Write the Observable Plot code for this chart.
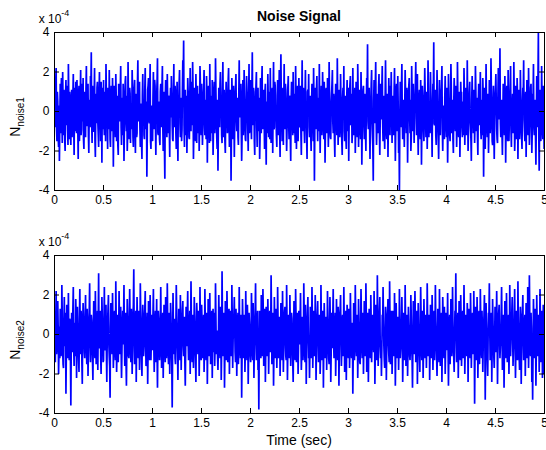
<!DOCTYPE html>
<html><head><meta charset="utf-8">
<script src="https://cdn.jsdelivr.net/npm/d3@7"></script>
<script src="https://cdn.jsdelivr.net/npm/@observablehq/plot@0.6"></script>
<style>
body{margin:0;background:#fff;font-family:"Liberation Sans",Arial,sans-serif}
#wrap{position:relative;width:546px;height:450px;overflow:hidden}
#wrap svg{position:absolute;left:0}
</style></head><body><div id="wrap"></div>
<script>
// Noise samples, in units of 1e-5 (plotted in units of 1e-4)
const noise1 = [
12,-4,-8,15,22,-9,-15,10,5,-13,-18,3,-25,-6,14,-11,9,17,-3,-16,20,4,-12,11,7,-14,-20,8,16,-7,2,13,-9,-17,24,6,-14,10,6,-12,
-17,5,11,-13,-4,8,19,-6,-22,12,8,-10,15,2,-11,16,3,-8,-24,9,13,-15,-6,7,21,-12,-9,14,0,-5,17,-14,-19,6,10,-2,-13,11,23,-7,
-7,9,14,-12,-21,4,6,-8,18,11,30,-5,-16,13,4,-10,-10,7,22,-14,-23,2,9,-6,12,15,-5,-11,-18,8,20,-3,-2,-15,15,6,-26,12,7,-9,
16,-6,-12,10,3,-15,24,7,-8,-2,-19,12,11,-9,21,5,-14,-18,5,13,-6,-10,17,4,-28,-3,13,9,-1,-13,19,8,-15,2,8,-17,-22,14,10,-5,
-4,11,23,-8,-17,3,7,-12,14,6,-25,-9,2,15,18,-4,-10,8,-20,-11,25,5,-7,-14,12,9,-16,1,4,-9,21,10,-13,-18,-3,12,16,-6,-21,7,
9,-13,-11,14,26,-3,-5,10,15,-8,-18,4,3,-16,-24,8,19,-2,6,-12,-14,11,22,-7,-9,5,-33,-12,11,13,17,-4,-6,9,24,-15,-19,3,1,-10,
-15,7,20,-9,-3,16,13,-6,-22,2,8,15,27,-11,-12,4,5,-14,-17,10,14,-3,-8,12,23,-7,-20,-5,10,-18,-34,6,16,9,-2,-13,19,4,-11,8,
6,-10,-23,5,12,-3,18,9,-7,-14,-15,6,24,-8,-4,13,9,-11,-19,2,15,-9,-25,7,3,14,21,-6,-13,-2,7,-15,-9,11,26,14,36,-7,-18,5,
11,-12,-6,8,-21,-4,17,10,2,-13,-14,6,22,-2,-10,15,8,-7,25,11,-24,-9,4,12,-8,-15,19,5,-16,3,13,-11,-3,9,-20,-6,23,14,-5,-12,
14,3,-17,-8,7,12,21,-5,-12,6,-2,-14,18,9,-26,-3,10,13,-7,-16,24,2,-15,8,5,-11,16,4,-22,-9,9,15,-11,-4,27,10,-4,-13,-19,6,
-30,-8,12,-4,-8,14,20,5,3,-12,-16,9,25,-6,-13,11,6,-15,-21,3,15,8,0,-11,-9,16,22,-3,-18,-7,11,4,-35,-10,17,6,-6,-14,13,2,
-23,-6,8,13,19,-4,-10,7,4,-13,-17,9,26,-2,-3,11,14,-8,-25,-12,7,16,-12,-5,21,6,-5,-14,-15,3,18,10,2,-9,-20,5,24,-11,-9,12,
16,-5,-14,9,30,-3,-7,12,10,-15,-22,4,5,13,20,-8,-18,6,12,-10,-2,7,-24,-13,17,3,-11,14,23,-9,-6,11,8,-4,-19,10,14,-8,-27,5,
3,-11,19,6,-13,10,-5,-14,22,2,-16,-6,9,12,-21,4,25,-9,-8,15,13,-3,-1,-12,-18,8,16,-7,-12,5,21,-10,-23,11,29,3,-4,-15,7,12,
-17,4,24,-7,-9,14,11,-3,-20,-9,2,12,18,-6,-14,8,6,-13,-25,5,15,10,-3,-12,20,1,-11,9,-7,-16,23,7,-19,-4,10,13,-15,-2,17,-8,
-6,8,13,-11,-22,5,26,-4,-10,12,4,-9,-16,7,21,-3,-2,-14,-24,10,11,2,19,-8,-13,6,8,-12,-20,3,14,9,-5,-15,22,4,-35,-7,12,-3,
-9,11,18,-4,-15,7,6,-10,24,2,-21,-6,3,13,-12,-3,20,9,-7,-14,15,4,-26,-8,10,12,-1,-11,17,6,-18,-5,25,8,-8,-13,-14,3,9,14,
21,-5,-11,9,5,-14,-23,2,14,10,-4,-12,27,6,-17,-3,8,11,-13,-7,19,4,-6,-15,-22,7,12,-2,23,-10,-15,8,1,-13,-19,5,16,-6,-10,12,
-25,-3,10,14,18,-7,-5,9,-16,-11,22,3,-12,-4,7,12,-21,-8,15,6,-3,-13,24,10,-18,-2,11,5,-8,-14,20,7,-27,-9,4,11,13,-6,-14,9,
6,-10,-20,4,17,8,34,-5,-9,11,12,-7,-24,-2,3,14,21,-6,-13,-18,-35,5,16,9,-6,13,25,-4,-17,-8,9,3,-11,12,19,-9,-22,-4,14,8,
-4,12,23,-6,-15,3,8,-11,-19,5,26,7,-10,-14,2,9,-23,-5,17,4,-7,-12,13,6,20,-3,-16,8,5,-9,-12,10,22,-2,-25,-8,11,14,-2,-10,
18,3,-21,-12,-40,-5,15,8,-8,11,24,-4,-14,5,6,-9,-18,2,21,10,-3,-11,12,4,-26,-7,9,13,17,-2,-11,6,-20,-13,23,8,-6,-10,14,2,
-16,6,3,12,25,-3,-12,4,19,-8,-22,-5,7,11,-9,-14,16,2,-27,-6,13,8,0,-10,-15,5,22,9,-5,-13,10,3,-19,-7,26,12,-13,-4,5,-11,
20,7,-10,-5,-23,3,14,9,35,-6,-7,4,11,-12,-17,-3,21,10,-4,-13,-24,-8,16,6,-12,2,8,12,23,-9,-20,-4,3,-11,-14,7,18,4,-8,-13,
12,-4,-26,-9,19,6,-2,-12,-15,3,24,11,-11,-6,6,-14,-21,4,17,9,-6,-10,13,2,-18,-7,25,8,-9,-13,2,10,-23,-5,15,6,10,-8,-13,5,
-5,-12,22,8,-17,-3,9,12,-12,-6,26,3,-20,-9,4,10,15,-4,-8,-14,-25,6,18,2,-1,-11,11,7,-16,-5,23,11,-10,-3,7,-13,-22,4,14,9,
-7,5,20,-9,-14,6,3,-12,17,8,-33,-4,12,10,-19,-2,24,5,-6,-13,9,3,-21,-7,16,8,-11,-4,27,11,-3,-15,-17,2,13,-8,-24,-5,8,12,
19,4,-9,-14,-16,7,22,-3,-4,10,32,-6,-13,2,6,-11,-22,-5,14,9,-2,-12,18,5,-26,-7,10,13,-8,-15,21,3,-15,-4,5,12,23,-9,-18,4,
2,9,-11,-5,25,6,-20,-12,13,3,-6,-14,17,8,-24,-3,8,11,-14,-9,21,4,-1,-13,-19,5,12,7,26,-4,-10,-15,4,10,-23,-6,16,3,-7,-12,
22,5,-17,-8,-4,12,14,-3,-21,-10,9,6,24,-7,-12,3,6,-13,-27,-4,18,10,-8,15,40,-12,-30,-5,11,8,-15,-9,23,4,-5,-14,13,7,-19,-6
];
const noise2 = [
9,-3,-14,6,22,-10,-6,12,17,3,-20,-8,4,-12,13,7,-11,-5,25,9,-8,-15,-17,4,19,-6,2,11,-30,-9,15,5,-5,-12,21,-2,-13,8,7,-10,
-36,-4,11,5,-9,13,24,-7,-16,3,6,-11,18,9,-22,-6,14,2,-3,-13,-19,8,23,-2,-10,12,8,-14,-25,4,16,7,1,-9,-12,10,20,-5,-7,-15,
13,4,-21,-8,5,11,26,-3,-14,-6,10,7,-4,-13,-23,2,17,9,-9,-12,22,6,-15,-4,3,12,-18,5,31,-7,-6,10,12,-11,-20,-3,19,8,-1,-14,
-13,5,24,-6,-8,11,15,-9,-24,-2,7,13,20,-5,-11,-16,-32,3,16,8,-3,-10,21,4,-17,-7,9,12,-6,-13,27,6,-19,-8,4,10,-14,-3,22,7,
-10,3,14,-7,-22,-9,6,12,-5,8,25,-4,-16,2,11,-13,-26,-6,18,9,2,-11,-12,5,23,6,-8,-14,13,3,-20,-7,9,15,33,-2,-15,-9,5,12,
-24,-5,19,7,-7,-12,12,4,-18,-3,26,9,-2,-14,-21,6,15,2,-11,-6,8,13,22,-4,-16,-9,3,11,-25,-8,17,5,-6,-13,20,3,-13,-2,10,-8,
-4,10,23,-5,-19,-7,7,12,-14,3,18,-9,-27,-4,12,8,1,-13,-9,6,24,2,-17,-10,6,11,-22,-6,15,9,-3,-14,19,5,-12,-4,26,7,-8,-15,
11,3,-20,-6,16,9,-5,-14,-37,-8,21,4,-10,6,8,-12,-15,2,25,10,-2,-9,-23,-4,13,7,-7,-13,20,5,-18,-3,4,12,17,-6,-11,-2,9,-14,
-26,-7,14,4,-6,11,22,-3,-13,-8,5,12,-20,-5,27,6,-9,-14,10,3,-17,-6,19,8,-4,-12,-24,2,16,9,-1,-10,12,5,-21,-7,24,4,-8,-13,
15,6,-12,-4,3,10,-19,-8,23,5,-7,-13,11,2,-25,-6,18,9,-3,-11,21,4,-15,-7,8,12,-22,-3,13,-9,6,11,-16,-5,26,8,-10,-4,2,-12,
-18,-6,20,5,-5,-12,14,3,-23,-8,32,6,-11,-4,7,11,-27,-9,17,4,-2,-13,22,8,-14,-5,9,13,-20,-7,12,3,-6,-11,25,7,-17,-3,4,10,
19,3,-9,-14,13,6,-21,-5,6,11,-15,-7,24,4,-4,-12,10,2,-32,-9,18,7,-12,-3,2,10,-19,-6,22,5,-7,-13,15,3,-25,-8,11,6,-1,-11,
-14,-4,21,8,-8,-13,16,5,-22,-6,3,11,26,-2,-13,-7,7,12,-18,-9,-38,-5,12,4,-5,-12,20,6,-11,-3,23,9,-16,-4,9,13,-24,-7,14,3,
-3,-11,18,6,-20,-5,10,12,-9,-2,30,8,-15,-6,5,11,-26,-8,19,4,-6,-12,13,3,-17,-4,24,7,-12,-5,2,9,-21,-6,16,3,-8,-13,22,5,
-19,-6,7,12,14,-4,-11,-13,25,5,-23,-8,4,10,-7,-12,20,3,-16,-5,11,8,-2,-14,-24,-3,17,6,-10,-13,23,9,-14,-4,6,11,-20,-7,12,4,
-5,7,21,-3,-18,-9,9,4,-13,-6,26,10,-8,-14,15,5,-25,-7,3,11,19,2,-12,-5,-22,-9,14,6,-4,-12,24,8,-17,-3,8,12,-11,-6,20,4,
-23,-8,6,11,17,-2,-14,-7,10,5,-20,-11,25,3,-6,-13,12,7,-27,-4,16,6,-9,-12,4,9,-18,-3,22,8,-3,-12,-15,4,19,6,-24,-9,11,3,
-7,9,23,-4,-12,-6,5,11,-21,-8,18,4,-2,-13,14,6,-26,-5,9,13,20,-3,-16,-7,7,10,-11,-4,24,5,-19,-9,3,12,-23,-6,15,7,-5,-12,
13,4,-17,-6,21,7,-8,-12,6,2,-30,-9,16,5,-13,-4,25,8,-4,-11,10,3,-22,-7,18,6,-9,-14,-15,2,23,9,-6,-12,11,4,-20,-5,17,6,
-11,-3,26,8,-19,-7,4,11,-24,-5,13,6,-7,-12,20,4,-14,-3,8,10,-2,-9,22,5,-25,-8,15,3,-9,-13,30,7,-16,-4,6,12,19,-6,-12,-3,
-21,-7,10,3,24,6,-6,-13,-17,-2,14,9,-23,-6,5,11,18,-4,-10,-14,27,7,-15,-5,3,12,-20,-8,12,4,-8,-11,21,6,-26,-9,16,3,-4,-12,
9,2,-18,-6,23,5,-12,-8,-5,7,19,4,-24,-10,11,3,-9,-13,25,6,-16,-4,6,10,-21,-7,14,5,2,-11,-13,-3,20,8,-7,-12,-27,-5,17,6,
-10,3,22,7,-14,-5,8,12,-25,-6,16,4,-3,-11,-19,2,24,9,-8,-13,12,5,-22,-7,18,3,-5,-12,10,6,-17,-4,26,8,-11,-6,4,10,-23,-8,
15,4,-6,-12,20,6,-18,-5,9,12,-13,-3,25,7,-2,-11,-21,-6,13,4,-10,-14,23,5,-16,-7,7,11,-24,-4,19,8,-4,-12,14,3,-20,-8,11,5,
-8,4,21,-5,-26,-9,6,10,-15,-3,18,7,-11,-6,24,3,-5,-12,-19,2,12,9,31,-4,-14,-7,3,11,-22,-6,17,5,-9,-13,20,6,-16,-4,8,12,
-12,-3,25,6,-20,-7,10,4,-4,-11,16,8,-24,-5,13,3,-7,-12,21,6,-17,-4,5,11,-10,-6,22,4,-35,-9,14,7,-3,-13,19,5,-22,-6,9,12,
-15,-4,23,7,-8,-12,12,3,-19,-6,4,10,20,-3,-33,-8,16,5,-6,-13,-21,-2,11,8,26,4,-13,-7,7,11,-24,-5,18,6,-2,-11,-17,-4,14,6,
-9,3,22,6,-25,-7,8,11,15,-4,-12,-6,-4,9,24,3,-18,-8,10,4,-27,-5,17,7,-7,-12,21,5,-14,-3,3,10,-20,-6,25,8,-11,-4,6,11,
19,4,-16,-7,-6,9,23,-3,-22,-8,12,5,-9,-13,27,6,-3,-11,-18,3,14,7,-25,-6,8,11,20,-4,-13,-9,5,10,-21,-5,16,4,-10,-12,24,6,
-17,-4,30,7,-8,-11,11,3,-24,-7,-33,-6,18,5,-5,-12,13,4,-26,-8,20,6,-11,-3,6,10,-19,-5,23,7,-14,-4,9,12,-22,-6,15,3,-20,-9
];
const duration = 5;          // seconds
const xTicks = [0,0.5,1,1.5,2,2.5,3,3.5,4,4.5,5];
const yTicks = [-4,-2,0,2,4];
const titleText = "Noise Signal";
const xLabel = "Time (sec)";
const yLabels = [["N","noise1"],["N","noise2"]];

const W = 546, ML = 54, MR = 2;
const font = "'Liberation Sans', Arial, Helvetica, sans-serif";

function panel(values, {height, marginTop, marginBottom}) {
  const data = values.map((v, i) => ({t: i * duration / (values.length - 1), v: v / 10}));
  const ph = height - marginTop - marginBottom, pw = W - ML - MR;
  return Plot.plot({
    width: W, height, marginLeft: ML, marginRight: MR, marginTop, marginBottom,
    style: {fontFamily: font, fontSize: "12px", color: "#000", background: "transparent", overflow: "visible"},
    x: {domain: [0, duration]},
    y: {domain: [-4, 4]},
    marks: [
      Plot.line(data, {x: "t", y: "v", stroke: "#0000ff", strokeWidth: 1.7, strokeLinejoin: "miter", strokeMiterlimit: 2, clip: true}),
      Plot.tickX(xTicks, {x: d => d, insetTop: ph - 5, stroke: "#000"}),
      Plot.tickX(xTicks, {x: d => d, insetBottom: ph - 5, stroke: "#000"}),
      Plot.tickY(yTicks, {y: d => d, insetRight: pw - 5, stroke: "#000"}),
      Plot.tickY(yTicks, {y: d => d, insetLeft: pw - 5, stroke: "#000"}),
      Plot.frame({stroke: "#000", strokeWidth: 1}),
      Plot.axisX({ticks: xTicks, tickSize: 0, tickPadding: 5, tickFormat: d => String(d), label: null}),
      Plot.axisY({ticks: yTicks, tickSize: 0, tickPadding: 5, tickFormat: d => String(d), label: null})
    ]
  });
}

function addExp(svg, y) {
  const t = svg.append("text").attr("x", ML).attr("y", y)
    .attr("font-family", font).attr("font-size", 12).attr("fill", "#000");
  t.append("tspan").text("x 10");
  t.append("tspan").attr("dy", -7).attr("font-size", 9).text("-4");
}
function addYLabel(svg, lab, yCenter) {
  const t = svg.append("text").attr("transform", `translate(20,${yCenter}) rotate(-90)`)
    .attr("text-anchor", "middle").attr("font-family", font).attr("font-size", 14).attr("fill", "#000");
  t.append("tspan").text(lab[0]);
  t.append("tspan").attr("dy", 4).attr("font-size", 10).text(lab[1]);
}

const wrap = document.getElementById("wrap");
const p1 = panel(noise1, {height: 225, marginTop: 32, marginBottom: 35});
p1.style.top = "0px";
wrap.appendChild(p1);
const s1 = d3.select(p1);
s1.append("text").attr("x", ML + (W - ML - MR) / 2).attr("y", 21).attr("text-anchor", "middle")
  .attr("font-family", font).attr("font-size", 14).attr("font-weight", "bold").attr("fill", "#000").text(titleText);
addExp(s1, 23);
addYLabel(s1, yLabels[0], 117);

const p2 = panel(noise2, {height: 225, marginTop: 30, marginBottom: 37});
p2.style.top = "225px";
wrap.appendChild(p2);
const s2 = d3.select(p2);
addExp(s2, 21);
addYLabel(s2, yLabels[1], 115);
s2.append("text").attr("x", ML + (W - ML - MR) / 2).attr("y", 220).attr("text-anchor", "middle")
  .attr("font-family", font).attr("font-size", 14).attr("fill", "#000").text(xLabel);
</script></body></html>
